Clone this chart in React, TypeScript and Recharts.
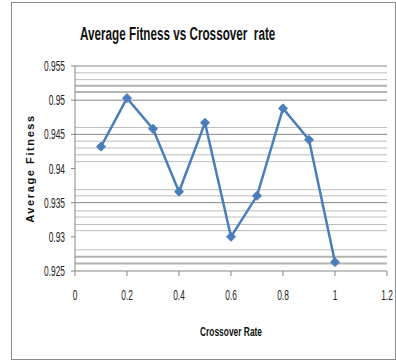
import React from 'react';
import {
  LineChart, Line, XAxis, YAxis, ReferenceLine, Label,
} from 'recharts';

// crossover rate vs. average fitness
const crossoverRates = [0.1, 0.2, 0.3, 0.4, 0.5, 0.6, 0.7, 0.8, 0.9, 1.0];
const avgFitness = [0.9432, 0.9503, 0.9458, 0.9366, 0.9467, 0.93, 0.936, 0.9488, 0.9442, 0.9263];

const xTicks = [0, 0.2, 0.4, 0.6, 0.8, 1, 1.2];
const yTicks = [0.925, 0.93, 0.935, 0.94, 0.945, 0.95, 0.955];

// horizontal rules across the plot
const majorGrid = [0.955, 0.95, 0.945, 0.935];
const minorGrid = [0.954, 0.953, 0.946, 0.944, 0.943, 0.942, 0.941, 0.9369, 0.936, 0.9338, 0.9329, 0.9318, 0.9309, 0.9281];
const heavyGrid = [0.9521, 0.9512, 0.9271, 0.9261];

const rows = crossoverRates.map((rate, i) => ({ rate, fitness: avgFitness[i] }));

const BLUE = '#4a7ebb';
const FONT = '"Liberation Sans", Arial, sans-serif';

const Diamond = (props: any) => {
  const { cx, cy } = props;
  if (cx == null || cy == null) return null;
  const r = 4.5;
  return (
    <polygon
      points={`${cx},${cy - r} ${cx + r},${cy} ${cx},${cy + r} ${cx - r},${cy}`}
      fill={BLUE}
      stroke={BLUE}
    />
  );
};

const YTick = (props: any) => {
  const { x, y, payload } = props;
  return (
    <text
      transform={`translate(${x - 4},${y + 5}) scale(0.6,1)`}
      textAnchor="end"
      fontSize={14}
      fontFamily={FONT}
      fill="#222"
    >
      {payload.value}
    </text>
  );
};

const XTick = (props: any) => {
  const { x, y, payload } = props;
  return (
    <text
      transform={`translate(${x},${y + 22}) scale(0.6,1)`}
      textAnchor="middle"
      fontSize={14}
      fontFamily={FONT}
      fill="#222"
    >
      {payload.value}
    </text>
  );
};

const App = () => {
  return (
    <div style={{ position: 'absolute', left: 0, top: 0, width: 396, height: 360, background: '#fff' }}>
      <div
        style={{
          position: 'absolute', left: 11, top: 2, width: 383, height: 356,
          border: '1px solid #8c8c8c',
        }}
      />
      <div
        style={{
          position: 'absolute', left: 80, top: 25, fontFamily: FONT, fontWeight: 'bold',
          fontSize: 18, lineHeight: '18px', whiteSpace: 'pre', color: '#111',
          transform: 'scaleX(0.65)', transformOrigin: 'left center',
        }}
      >
        Average Fitness vs Crossover  rate
      </div>
      <LineChart
        width={396}
        height={360}
        data={rows}
        margin={{ top: 66, right: 9, bottom: 29, left: 0 }}
        style={{ position: 'absolute', left: 0, top: 0 }}
      >
        {heavyGrid.map((v) => (
          <ReferenceLine key={`h${v}`} y={v} stroke="#b4b4b4" strokeWidth={2} />
        ))}
        {minorGrid.map((v) => (
          <ReferenceLine key={`m${v}`} y={v} stroke="#bdbdbd" strokeWidth={1} />
        ))}
        {majorGrid.map((v) => (
          <ReferenceLine key={`M${v}`} y={v} stroke="#868686" strokeWidth={1} />
        ))}
        <XAxis
          dataKey="rate"
          type="number"
          domain={[0, 1.2]}
          ticks={xTicks}
          interval={0}
          height={60}
          tickSize={5}
          stroke="#868686"
          tick={<XTick />}
        >
          <Label
            content={({ viewBox }: any) => (
              <text
                transform={`translate(${viewBox.x + viewBox.width / 2},${viewBox.y + 65}) scale(0.7,1)`}
                textAnchor="middle"
                fontSize={12}
                fontWeight="bold"
                fontFamily={FONT}
                fill="#111"
              >
                Crossover Rate
              </text>
            )}
          />
        </XAxis>
        <YAxis
          type="number"
          domain={[0.925, 0.955]}
          ticks={yTicks}
          interval={0}
          width={75}
          tickSize={4}
          stroke="#868686"
          tick={<YTick />}
        >
          <Label
            content={({ viewBox }: any) => {
              const cx = viewBox.x + 30;
              const cy = viewBox.y + viewBox.height / 2;
              return (
                <text
                  transform={`translate(${cx},${cy}) rotate(-90)`}
                  textAnchor="middle"
                  dominantBaseline="central"
                  fontSize={11}
                  fontWeight="bold"
                  letterSpacing={1.6}
                  fontFamily={FONT}
                  fill="#111"
                >
                  Average Fitness
                </text>
              );
            }}
          />
        </YAxis>
        <Line
          dataKey="fitness"
          stroke={BLUE}
          strokeWidth={2.5}
          dot={<Diamond />}
          activeDot={false}
          isAnimationActive={false}
        />
      </LineChart>
    </div>
  );
};

export default App;
